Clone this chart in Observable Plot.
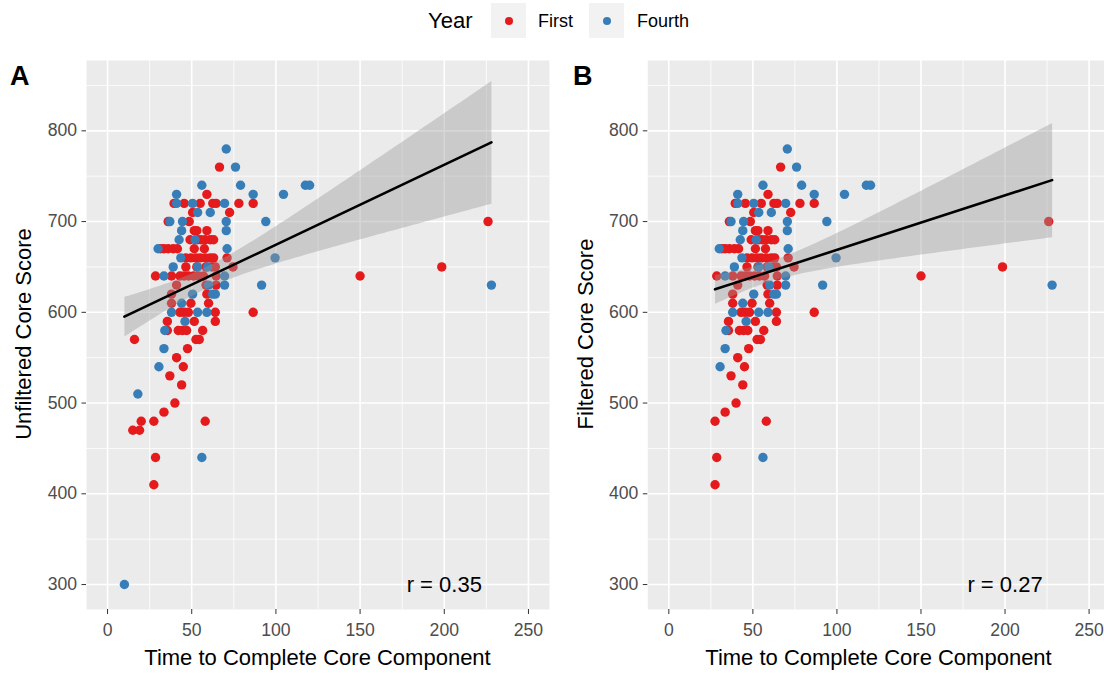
<!DOCTYPE html>
<html>
<head>
<meta charset="utf-8">
<script src="https://cdn.jsdelivr.net/npm/d3@7"></script>
<script src="https://cdn.jsdelivr.net/npm/@observablehq/plot@0.6"></script>
<style>
  html, body { margin: 0; padding: 0; background: #ffffff; }
  body { width: 1104px; height: 673px; overflow: hidden; position: relative;
         font-family: "Liberation Sans", Arial, Helvetica, sans-serif; }
  .abs { position: absolute; white-space: nowrap; }
  .key { position: absolute; width: 35px; height: 35px; background: #F2F2F2; }
  .key span { position: absolute; left: 13.5px; top: 13.5px; width: 8px; height: 8px; border-radius: 50%; }
  #panels { position: absolute; left: 0; top: 45px; width: 1104px; height: 628px; }
  #panelA { position: absolute; left: 0; top: 0; width: 552px; height: 628px; }
  #panelB { position: absolute; left: 552px; top: 0; width: 552px; height: 628px; }
  .ytitle { position: absolute; font-size: 22px; line-height: 22px; color: #000;
            transform: translate(-50%, -50%) rotate(-90deg); white-space: nowrap; }
  .xtitle { position: absolute; font-size: 22px; line-height: 22px; color: #000;
            transform: translateX(-50%); white-space: nowrap; }
  .tag { position: absolute; font-size: 27px; line-height: 27px; font-weight: bold; color: #000; }
</style>
</head>
<body>
<div id="panels">
  <div id="panelA"></div>
  <div id="panelB"></div>
</div>
<div class="abs" style="left:428px; top:10px; font-size:22px; line-height:22px;">Year</div>
<div class="key" style="left:491px; top:3px;"><span style="background:#E41A1C"></span></div>
<div class="abs" style="left:538px; top:12px; font-size:18px; line-height:18px;">First</div>
<div class="key" style="left:589px; top:3px;"><span style="background:#377EB8"></span></div>
<div class="abs" style="left:637px; top:12px; font-size:18px; line-height:18px;">Fourth</div>
<div class="tag" style="left:10px; top:63px;">A</div>
<div class="tag" style="left:573px; top:63px;">B</div>
<div class="ytitle" style="left:24px; top:334px;">Unfiltered Core Score</div>
<div class="ytitle" style="left:586px; top:334px;">Filtered Core Score</div>
<div class="xtitle" style="left:317.5px; top:647px;">Time to Complete Core Component</div>
<div class="xtitle" style="left:878.5px; top:647px;">Time to Complete Core Component</div>
<script>
// ---- Data (time to complete, core score) ----
const years = ["First", "Fourth"];
const yearColors = ["#E41A1C", "#377EB8"];

const firstTime = [
  66.5,
  59,
  39.5, 45.5, 55, 62.5, 64.5, 78, 86.5,
  50.5, 72.5,
  36, 48.5, 226,
  51.5, 53, 59,
  49, 53.5, 55.5, 58, 61, 63,
  31.5, 33.5, 36, 39, 41.5, 51.5, 57.5,
  46.5, 49.5, 52.5, 55, 58, 61, 63, 71,
  46.5, 53, 58.5, 62, 64, 74.5, 198.5,
  28.5, 38, 43, 45.5, 48, 51, 54, 57, 64.5, 150,
  41, 58.5, 64.5,
  38, 59,
  38, 49.5, 60,
  43, 45.5, 48, 64, 86.5,
  35.5, 51.5, 64,
  35.5, 42, 44.5, 47, 56.5,
  16, 52.5, 54.5,
  47.5,
  41,
  45,
  37,
  44,
  40,
  33.5,
  20, 27.5, 58,
  15, 19,
  28.5,
  27.5
];
const firstScore = [
  760,
  730,
  720, 720, 720, 720, 720, 720, 720,
  710, 710,
  700, 700, 700,
  690, 690, 690,
  680, 680, 680, 680, 680, 680,
  670, 670, 670, 670, 670, 670, 670,
  660, 660, 660, 660, 660, 660, 660, 660,
  650, 650, 650, 650, 650, 650, 650,
  640, 640, 640, 640, 640, 640, 640, 640, 640, 640,
  630, 630, 630,
  620, 620,
  610, 610, 610,
  600, 600, 600, 600, 600,
  590, 590, 590,
  580, 580, 580, 580, 580,
  570, 570, 570,
  560,
  550,
  540,
  530,
  520,
  500,
  490,
  480, 480, 480,
  470, 470,
  440,
  410
];
const fourthTime = [
  70.5,
  76,
  56, 79, 117.5, 120,
  41, 86.5, 104.5,
  41, 50.5, 69.5,
  53.5, 61,
  37, 44.5, 70.5, 94,
  44, 70.5,
  42.5, 52,
  30, 71,
  43.5, 99.5,
  39, 53.5, 59.5,
  33.5, 69.5,
  60, 69.5, 91.5, 228,
  50.5, 62.5, 64,
  44,
  38, 53.5, 59,
  46,
  34,
  33.5,
  30.5,
  18,
  56,
  10
];
const fourthScore = [
  780,
  760,
  740, 740, 740, 740,
  730, 730, 730,
  720, 720, 720,
  710, 710,
  700, 700, 700, 700,
  690, 690,
  680, 680,
  670, 670,
  660, 660,
  650, 650, 650,
  640, 640,
  630, 630, 630, 630,
  620, 620, 620,
  610,
  600, 600, 600,
  590,
  580,
  560,
  540,
  510,
  440,
  300
];
// Panel B keeps only completion times at or above this cut-off
const filterMinTime = 25;
const rLabels = ["r = 0.35", "r = 0.27"];
const rLabelAt = {time: 200, score: 300};

const xTicks = [0, 50, 100, 150, 200, 250];
const xMinor = [25, 75, 125, 175, 225];
const yTicks = [300, 400, 500, 600, 700, 800];
const yMinor = [350, 450, 550, 650, 750, 850];
const xDomain = [-12.5, 262.5];
const yDomain = [272.5, 877.5];

// ---- Build table ----
const all = [];
firstTime.forEach((t, i) => all.push({time: t, score: firstScore[i], year: "First"}));
fourthTime.forEach((t, i) => all.push({time: t, score: fourthScore[i], year: "Fourth"}));
const filtered = all.filter(d => d.time >= filterMinTime);

function panel(data, label, marginLeft, marginRight) {
  return Plot.plot({
    width: 552, height: 628,
    marginLeft, marginRight, marginTop: 15, marginBottom: 64,
    x: {domain: xDomain},
    y: {domain: yDomain},
    color: {domain: years, range: yearColors},
    style: {fontFamily: '"Liberation Sans", Arial, sans-serif', fontSize: "17.6px", background: "transparent", overflow: "visible"},
    marks: [
      Plot.frame({fill: "#EBEBEB", stroke: null}),
      Plot.gridX(xMinor, {stroke: "#FFFFFF", strokeOpacity: 1, strokeWidth: 0.8}),
      Plot.gridY(yMinor, {stroke: "#FFFFFF", strokeOpacity: 1, strokeWidth: 0.8}),
      Plot.gridX(xTicks, {stroke: "#FFFFFF", strokeOpacity: 1, strokeWidth: 1.6}),
      Plot.gridY(yTicks, {stroke: "#FFFFFF", strokeOpacity: 1, strokeWidth: 1.6}),
      Plot.dot(data, {x: "time", y: "score", fill: "year", r: 4.7}),
      Plot.linearRegressionY(data, {x: "time", y: "score", stroke: "#000000", strokeWidth: 2.6,
                                    fill: "#999999", fillOpacity: 0.4, ci: 0.95}),
      Plot.axisX(xTicks, {tickSize: 5, tickPadding: 9, stroke: "#333333", fill: "#4D4D4D", label: null, fontSize: 17.6}),
      Plot.axisY(yTicks, {tickSize: 4.5, tickPadding: 5, stroke: "#333333", fill: "#4D4D4D", label: null, fontSize: 17.6}),
      Plot.text([label], {x: () => rLabelAt.time, y: () => rLabelAt.score, text: d => d, fontSize: 22, fill: "#000000"})
    ]
  });
}

document.getElementById("panelA").appendChild(panel(all, rLabels[0], 86, 3));
document.getElementById("panelB").appendChild(panel(filtered, rLabels[1], 95.3, -5.6));
</script>
</body>
</html>
